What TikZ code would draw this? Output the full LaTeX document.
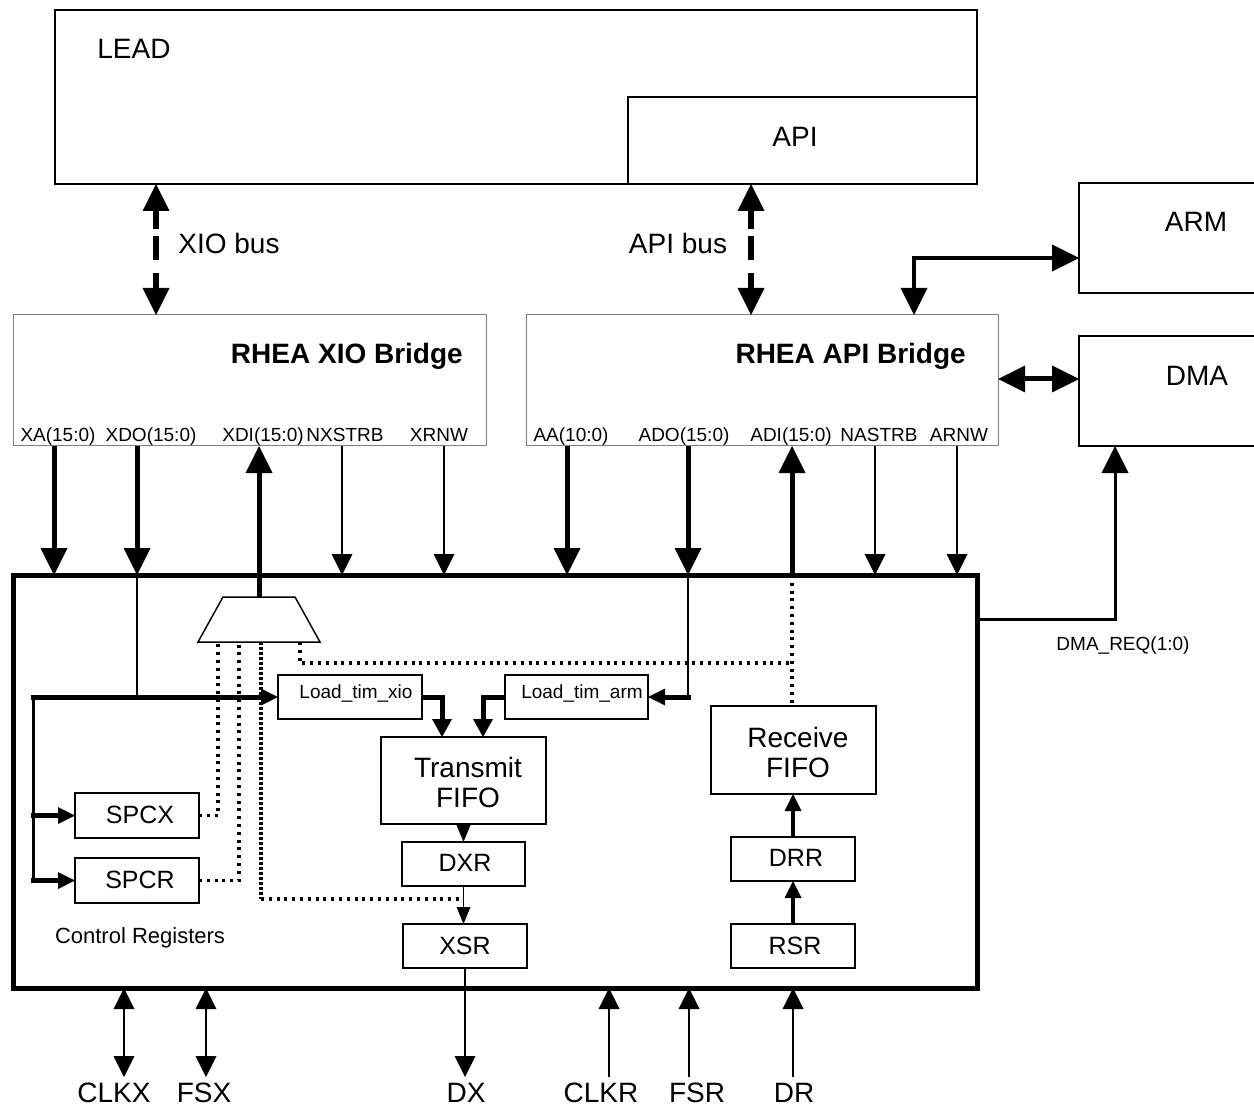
\documentclass[tikz,border=0pt]{standalone}
\usepackage{fontspec}
\setmainfont{Liberation Sans}
\usetikzlibrary{arrows.meta}
\begin{document}
\begin{tikzpicture}[x=1pt,y=-1pt,
  box/.style={draw,line width=1.5pt,inner sep=0pt,outer sep=0pt,anchor=north west},
  gbox/.style={box,draw=black!50,line width=1pt},
  txt/.style={inner sep=0pt,anchor=base},
  fbig/.style={font=\fontsize{28}{30}\selectfont},
  fbold/.style={font=\fontsize{28}{30}\selectfont\bfseries},
  fsig/.style={font=\fontsize{19}{21}\selectfont},
  freg/.style={font=\fontsize{25}{27}\selectfont},
  fcr/.style={font=\fontsize{22}{24}\selectfont},
  BigT/.tip={Triangle[width=27pt,length=27pt,line width=0pt]},
  MidT/.tip={Triangle[width=20pt,length=18pt,line width=0pt]},
  SmT/.tip={Triangle[width=17pt,length=17pt,line width=0pt]},
  ThT/.tip={Triangle[width=21pt,length=21pt,line width=0pt]},
  TnT/.tip={Triangle[width=14pt,length=17pt,line width=0pt]},
  bigarr/.style={line width=5pt,-BigT},
  thinarr/.style={line width=1.5pt,-ThT},
  busarr/.style={line width=6pt,BigT-BigT,dash pattern=on 18pt off 7pt on 24pt off 13pt on 40pt},
  dotln/.style={line width=3.2pt,dash pattern=on 3pt off 4.8pt},
  dotdense/.style={line width=3.2pt,dash pattern=on 3pt off 2pt},
]
\useasboundingbox (0,0) rectangle (1254,1107);

% top level boxes
\node[box,line width=2pt,minimum width=922pt,minimum height=174pt] (lead) at (55,10) {};
\node[box,line width=2pt,minimum width=349pt,minimum height=87pt] (api) at (628,97) {};
\node[box,minimum width=191pt,minimum height=110pt] (arm) at (1079,183) {};
\node[box,minimum width=191pt,minimum height=110pt] (dma) at (1079,336) {};
\node[gbox,minimum width=473pt,minimum height=131pt] (xiob) at (13,315) {};
\node[gbox,minimum width=472pt,minimum height=131pt] (apib) at (526,315) {};
\node[box,line width=5pt,minimum width=964pt,minimum height=413pt] (blk) at (13,575) {};

% inner boxes
\node[box,minimum width=144pt,minimum height=44pt] (ltx) at (278,675) {};
\node[box,minimum width=143pt,minimum height=44pt] (lta) at (505,675) {};
\node[box,minimum width=165pt,minimum height=87pt] (tf) at (381,737) {};
\node[box,minimum width=123pt,minimum height=44pt] (dxr) at (402,842) {};
\node[box,minimum width=124pt,minimum height=44pt] (xsr) at (403,924) {};
\node[box,minimum width=165pt,minimum height=88pt] (rf) at (711,706) {};
\node[box,minimum width=124pt,minimum height=44pt] (drr) at (731,837) {};
\node[box,minimum width=124pt,minimum height=44pt] (rsr) at (731,924) {};
\node[box,minimum width=124pt,minimum height=45pt] (spcx) at (75,793) {};
\node[box,minimum width=124pt,minimum height=45pt] (spcr) at (75,858) {};

% mux
\draw[line width=1.5pt] (198,642) -- (223,597) -- (295,597) -- (320,642) -- cycle;
\coordinate (muxtop) at (259,597);
\coordinate (muxbot) at (259,642);

% texts
\node[txt,fbig] (tlead) at (134,59) {LEAD};
\node[txt,fbig] (tapi) at (795,147) {API};
\node[txt,fbig] (txbus) at (229,254) {XIO bus};
\node[txt,fbig] (tabus) at (678,254) {API bus};
\node[txt,fbig] (tarm) at (1196,232) {ARM};
\node[txt,fbig] (tdma) at (1197,386) {DMA};
\node[txt,fbold,anchor=base east] (txb) at (463,364) {RHEA XIO Bridge};
\node[txt,fbold,anchor=base east] (tab) at (966,364) {RHEA API Bridge};

\node[txt,fsig] (sXA) at (58,442) {XA(15:0)};
\node[txt,fsig] (sXDO) at (151,442) {XDO(15:0)};
\node[txt,fsig] (sXDI) at (263,442) {XDI(15:0)};
\node[txt,fsig] (sNX) at (345,442) {NXSTRB};
\node[txt,fsig] (sXR) at (439,442) {XRNW};
\node[txt,fsig] (sAA) at (571,442) {AA(10:0)};
\node[txt,fsig] (sADO) at (684,442) {ADO(15:0)};
\node[txt,fsig] (sADI) at (791,442) {ADI(15:0)};
\node[txt,fsig] (sNA) at (879,442) {NASTRB};
\node[txt,fsig] (sAR) at (959,442) {ARNW};
\node[txt,fsig] (sDREQ) at (1123,650) {DMA\_REQ(1:0)};

\node[txt,fsig] (tltx) at (356,698) {Load\_tim\_xio};
\node[txt,fsig] (tlta) at (582,698) {Load\_tim\_arm};
\node[inner sep=0pt,fbig,align=center] (ttf) at (468,782) {Transmit\\FIFO};
\node[inner sep=0pt,fbig,align=center] (trf) at (798,752) {Receive\\FIFO};
\node[txt,freg] (tspcx) at (140,823) {SPCX};
\node[txt,freg] (tspcr) at (140,888) {SPCR};
\node[txt,freg] (tdxr) at (465,871) {DXR};
\node[txt,freg] (txsr) at (465,954) {XSR};
\node[txt,freg] (tdrr) at (796,866) {DRR};
\node[txt,freg] (trsr) at (795,954) {RSR};
\node[txt,fcr] (tcr) at (140,943) {Control Registers};

\node[txt,fbig] (bCLKX) at (114,1102) {CLKX};
\node[txt,fbig] (bFSX) at (204,1102) {FSX};
\node[txt,fbig] (bDX) at (466,1102) {DX};
\node[txt,fbig] (bCLKR) at (601,1102) {CLKR};
\node[txt,fbig] (bFSR) at (697,1102) {FSR};
\node[txt,fbig] (bDR) at (794,1102) {DR};

% buses
\draw[busarr] (156,0 |- lead.south) -- (156,0 |- xiob.north);
\draw[busarr] (751,0 |- lead.south) -- (751,0 |- apib.north);
\draw[line width=4.5pt,BigT-BigT] (914,0 |- apib.north) -- (914,258) -- (arm.west |- 0,258);
\draw[line width=5pt,BigT-BigT] (apib.east |- 0,379) -- (dma.west |- 0,379);
\draw[line width=3pt,-BigT] (blk.east |- 0,619) -| (1115,0 |- dma.south);

% bridge signals
\draw[bigarr] (54,0 |- xiob.south) -- (54,0 |- blk.north);
\draw[bigarr] (137,0 |- xiob.south) -- (137,0 |- blk.north);
\draw[bigarr] (muxtop) -- (muxtop |- xiob.south);
\draw[thinarr] (342,0 |- xiob.south) -- (342,0 |- blk.north);
\draw[thinarr] (444,0 |- xiob.south) -- (444,0 |- blk.north);
\draw[bigarr] (567,0 |- apib.south) -- (567,0 |- blk.north);
\draw[bigarr] (688,0 |- apib.south) -- (688,0 |- blk.north);
\draw[bigarr] (792,0 |- blk.north) -- (792,0 |- apib.south);
\draw[thinarr] (875,0 |- apib.south) -- (875,0 |- blk.north);
\draw[thinarr] (957,0 |- apib.south) -- (957,0 |- blk.north);

% internal xio path
\draw[line width=2pt] (137,0 |- blk.north) -- (137,697);
\draw[line width=3pt] (33,695) -- (33,882);
\draw[line width=5pt,-SmT] (31,0 |- ltx.west) -- (ltx.west);
\draw[line width=5pt,-SmT] (31,0 |- spcx.west) -- (spcx.west);
\draw[line width=5pt,-SmT] (31,0 |- spcr.west) -- (spcr.west);

% internal api path
\draw[line width=2pt] (688,0 |- blk.north) -- (688,697);
\draw[line width=5pt,-SmT] (690.5,697) -- (lta.east);

% load tim to fifo
\draw[line width=5pt,-MidT] (ltx.east) -| (442,0 |- tf.north);
\draw[line width=5pt,-MidT] (lta.west) -| (483,0 |- tf.north);

% transmit chain
\draw[line width=1.5pt,-TnT] (tf.south) -- (dxr.north);
\draw[line width=1.5pt,-TnT] (dxr.south) -- (dxr.south |- xsr.north);
\coordinate (eDX) at (465,1077);
\draw[thinarr] (xsr.south) -- (eDX);

% receive chain
\draw[line width=3.5pt,-SmT] (rsr.north) -- (drr.south);
\draw[line width=3.5pt,-SmT] (drr.north) -- (drr.north |- rf.south);

% dotted control lines
\draw[dotln] (spcx.east) -| (218,0 |- muxbot);
\draw[dotln] (spcr.east) -| (239,0 |- muxbot);
\draw[dotdense] (261,0 |- muxbot) -- (261,899);
\draw[dotln] (261,899) -- (dxr.south |- 0,899);
\draw[dotln] (300,0 |- muxbot) |- (792,663);
\draw[dotln] (792,0 |- blk.north) -- (792,0 |- rf.north);

% bottom pins
\coordinate (eCLKX) at (124,1077);
\coordinate (eFSX) at (206,1077);
\coordinate (eCLKR) at (609,1077);
\coordinate (eFSR) at (689,1077);
\coordinate (eDR) at (793,1077);
\draw[line width=1.5pt,ThT-ThT] (eCLKX |- blk.south) -- (eCLKX);
\draw[line width=1.5pt,ThT-ThT] (eFSX |- blk.south) -- (eFSX);
\draw[thinarr] (eCLKR) -- (eCLKR |- blk.south);
\draw[thinarr] (eFSR) -- (eFSR |- blk.south);
\draw[thinarr] (eDR) -- (eDR |- blk.south);
\end{tikzpicture}
\end{document}
